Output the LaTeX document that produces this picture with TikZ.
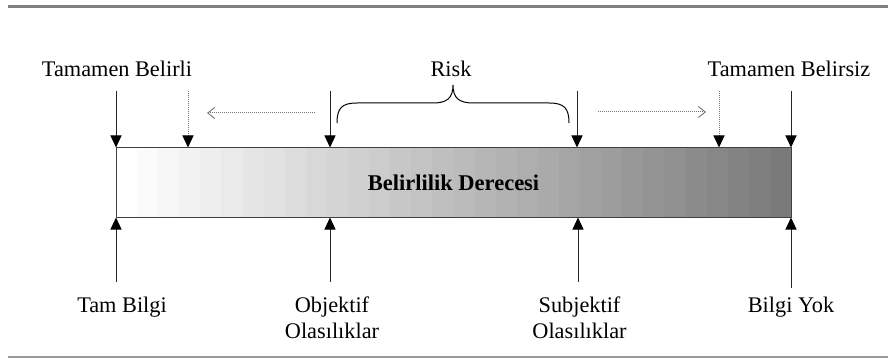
\documentclass[tikz,border=0pt]{standalone}
\usepackage{fontspec}
\setmainfont{Liberation Serif}
\usetikzlibrary{arrows.meta}
\begin{document}
\begin{tikzpicture}[x=1pt,y=-1pt,
  lbl/.style={font=\fontsize{22.3}{26}\selectfont, inner sep=0pt, anchor=base, align=center},
  marker/.style={draw=black!85, line width=1pt, -{Triangle[width=11pt,length=12pt,color=black]}},
  shiftmark/.style={draw=black!55, line width=1pt, dash pattern=on 1pt off 1pt, -{Triangle[width=11pt,length=12pt,color=black]}},
  drift/.style={draw=black!55, line width=1pt, dash pattern=on 1pt off 1pt, -{Straight Barb[length=7pt,width=11pt,line width=0.9pt]}},
  rule/.style={draw=black!50, line width=3pt},
  thinrule/.style={draw=black!40, line width=1.3pt},
]
\useasboundingbox (0,0) rectangle (888,358);

% horizontal rules above and below
\coordinate (rtl) at (8,6.5);  \coordinate (rtr) at (888,6.5);
\coordinate (rbl) at (8,357);  \coordinate (rbr) at (888,357);
\draw[rule] (rtl) -- (rtr);
\draw[thinrule] (rbl) -- (rbr);

% banded grey scale of the bar (32 bands of 21.09pt)
\foreach \i [evaluate=\i as \s using \i*52/31, evaluate=\i as \xx using 116+\i*21.09375] in {0,...,31}
  \fill[black!\s] (\xx,148) rectangle ++(21.7,69);
\node[draw=black!75, line width=1pt, minimum width=675pt, minimum height=69pt,
      inner sep=0pt, font=\fontsize{22.5}{26}\selectfont\bfseries] (bar) at (453.5,182.5)
      {Belirlilik Derecesi};

% upper labels
\node[lbl] (certain) at (117,77) {Tamamen Belirli};
\node[lbl] (risk) at (451,77) {Risk};
\node[lbl] (uncertain) at (789,77) {Tamamen Belirsiz};

% upper arrow tails
\coordinate (ta) at (116,91);
\coordinate (tb) at (188,91);
\coordinate (tc) at (330,91);
\coordinate (td) at (577,91);
\coordinate (te) at (719,91);
\coordinate (tf) at (791,91);
\draw[marker] (ta) -- (ta |- bar.north);
\draw[shiftmark] (tb) -- (tb |- bar.north);
\draw[marker] (tc) -- (tc |- bar.north);
\draw[marker] (td) -- (td |- bar.north);
\draw[shiftmark] (te) -- (te |- bar.north);
\draw[marker] (tf) -- (tf |- bar.north);

% drift arrows
\coordinate (dla) at (315,113); \coordinate (dlb) at (207,113);
\coordinate (dra) at (598,112); \coordinate (drb) at (706,112);
\draw[drift] (dla) -- (dlb);
\draw[drift] (dra) -- (drb);

% brace under Risk
\coordinate (bl) at (337,123);
\coordinate (btip) at (453,85);
\coordinate (br) at (569,123);
\draw[line width=1pt] (bl) .. controls (337,108) and (342,103) .. (357,103)
  -- (433,103) .. controls (447,103) and (453,98) .. (btip)
  .. controls (453,98) and (459,103) .. (473,103)
  -- (549,103) .. controls (564,103) and (569,108) .. (br);

% lower arrows
\coordinate (ba) at (116,282);
\coordinate (bb) at (330,282);
\coordinate (bc) at (578,282);
\coordinate (bd) at (791,288);
\draw[marker] (ba) -- (ba |- bar.south);
\draw[marker] (bb) -- (bb |- bar.south);
\draw[marker] (bc) -- (bc |- bar.south);
\draw[marker] (bd) -- (bd |- bar.south);

% lower labels (two-line labels sit on the baseline of their last line)
\node[lbl] (full) at (122,312) {Tam Bilgi};
\node[lbl] (objective) at (332,338) {Objektif\\Olasılıklar};
\node[lbl] (subjective) at (579.5,338) {Subjektif\\Olasılıklar};
\node[lbl] (none) at (791,312) {Bilgi Yok};
\end{tikzpicture}
\end{document}
